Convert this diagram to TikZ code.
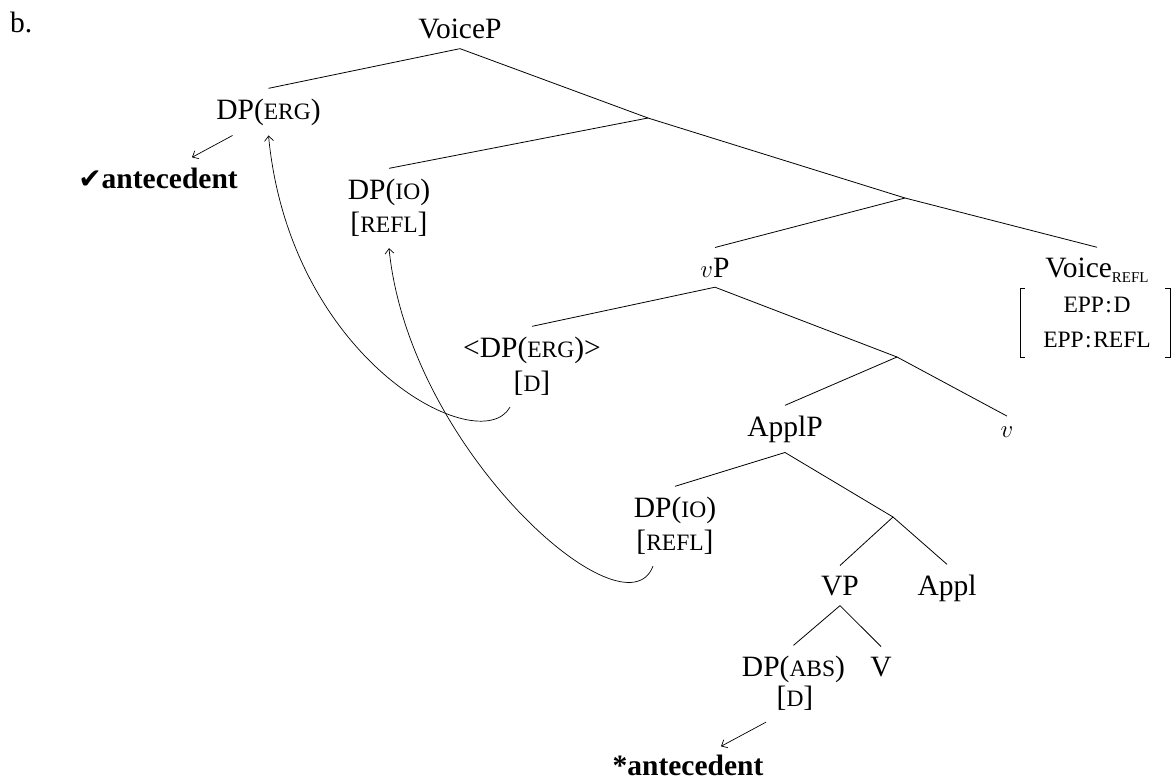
\documentclass[tikz,border=0pt]{standalone}
\usepackage{fontspec}
\setmainfont{Liberation Serif}
\newfontfamily\symfont{DejaVu Sans}
\usetikzlibrary{arrows.meta}
\newcommand{\fsc}[1]{{\fontsize{23.5}{26}\selectfont #1}}
\newcommand{\subsc}[1]{{\fontsize{15}{17}\selectfont #1}}
\begin{document}
\begin{tikzpicture}[x=1pt,y=-1pt,
  every node/.style={font=\fontsize{29.5}{33}\selectfont, inner sep=0pt},
  lab/.style={anchor=base, inner ysep=10pt},
  feat/.style={anchor=base, inner ysep=12pt},
  branch/.style={line width=0.8pt},
  mv/.style={line width=0.7pt, -{Straight Barb[length=5pt,width=9pt]}},
]
\useasboundingbox (0,0) rectangle (1171,780);

\node[anchor=base west] (b) at (10,32) {b.};

\node[lab] (voicep) at (460,38) {VoiceP};
\node[lab] (dperg) at (268.5,119) {DP(\fsc{ERG})};
\node[lab] (ant1) at (158,188) {{\symfont\fontsize{28}{30}\selectfont ✔}\textbf{antecedent}};

\coordinate (n1) at (648,118);
\node[lab] (dpio1) at (389,199) {DP(\fsc{IO})};
\node[feat] (refl1) at (389,232) {[\fsc{REFL}]};

\coordinate (n2) at (905,198);
\node[lab] (vp) at (715,277) {$v$P};
\node[lab] (voicerefl) at (1097,277) {Voice\raisebox{-5pt}{\subsc{REFL}}};
\node[feat] (epp1) at (1097,312) {\fsc{EPP\kern1.5pt:\kern1.5pt D}};
\node[feat] (epp2) at (1097,347) {\fsc{EPP\kern1.5pt:\kern1.5pt REFL}};

\node[lab] (dperg2) at (532,357) {<DP(\fsc{ERG})>};
\node[feat] (d1) at (532,391) {[\fsc{D}]};

\coordinate (n3) at (897,357);
\node[lab] (applp) at (785,436) {ApplP};
\node[lab] (v) at (1007,437) {$v$};

\node[lab] (dpio2) at (675,517) {DP(\fsc{IO})};
\node[feat] (refl2) at (675,550) {[\fsc{REFL}]};

\coordinate (n4) at (893,517);
\node[lab] (vpp) at (840,595) {VP};
\node[lab] (appl) at (947,595) {Appl};

\node[lab] (dpabs) at (793.5,676) {DP(\fsc{ABS})};
\node[lab] (V) at (881,676) {V};
\node[feat] (d2) at (795,706) {[\fsc{D}]};
\node[lab] (ant2) at (688,775) {\textbf{*antecedent}};

% brackets of the feature matrix
\draw[branch] (1025,288) -- (1020,288) -- (1020,357) -- (1025,357);
\draw[branch] (1165,288) -- (1170.5,288) -- (1170.5,357) -- (1165,357);

% branches
\draw[branch] (voicep.south) -- (dperg.north);
\draw[branch] (voicep.south) -- (n1);
\draw[branch] (n1) -- (dpio1.north);
\draw[branch] (n1) -- (n2);
\draw[branch] (n2) -- (vp.north);
\draw[branch] (n2) -- (voicerefl.north);
\draw[branch] (vp.south) -- (dperg2.north);
\draw[branch] (vp.south) -- (n3);
\draw[branch] (n3) -- (applp.north);
\draw[branch] (n3) -- (v.north);
\draw[branch] (applp.south) -- (dpio2.north);
\draw[branch] (applp.south) -- (n4);
\draw[branch] (n4) -- (vpp.north);
\draw[branch] (n4) -- (appl.north);
\draw[branch] (vpp.south) -- (dpabs.north);
\draw[branch] (vpp.south) -- (V.north);

% movement / antecedent arrows
\draw[mv] ([xshift=-36pt]dperg.south) -- ([xshift=34pt]ant1.north);
\draw[mv] ([xshift=-29pt]d2.south) -- ([xshift=33pt,yshift=-2pt]ant2.north);
\draw[mv] ([xshift=-22pt]d1.south) .. controls +(-30,53) and +(21.5,226) .. (dperg.south);
\draw[mv] ([xshift=-22pt]refl2.south) .. controls +(-28,74) and +(20,202) .. (refl1.south);
\end{tikzpicture}
\end{document}
